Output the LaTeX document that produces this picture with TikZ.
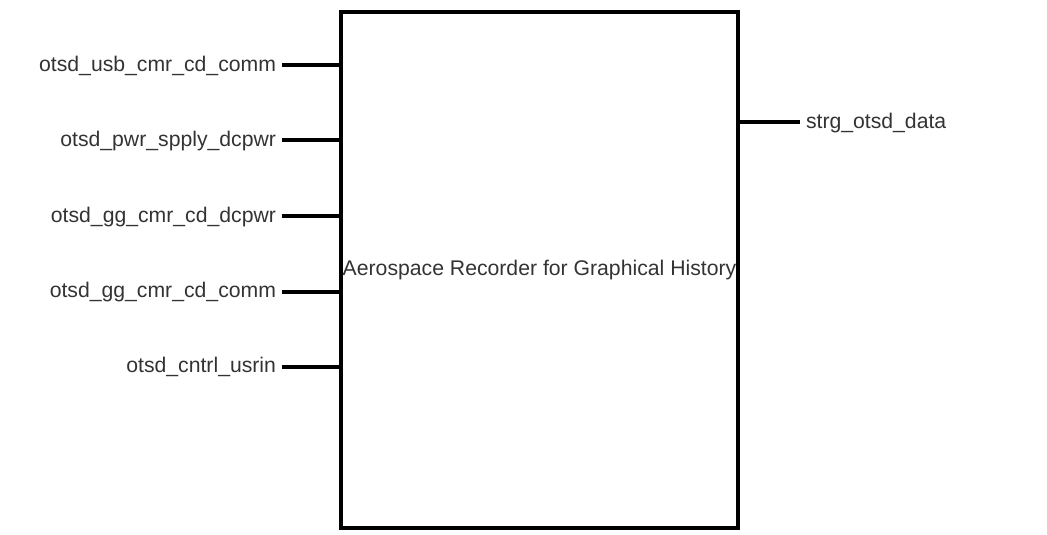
\documentclass[tikz,border=0pt]{standalone}
\usepackage{fontspec}
\setmainfont{Liberation Sans}
\definecolor{labelgray}{HTML}{333333}
\usepackage{tikz}
\usetikzlibrary{positioning, calc}

\begin{document}
\begin{tikzpicture}[x=1pt, y=-1pt,
		recbox/.style={draw=black, line width=4pt, minimum width=397pt, minimum height=516pt,
			inner sep=0pt, outer sep=0pt, text=labelgray, font=\fontsize{21.2}{25}\selectfont},
		sig/.style={inner sep=0pt, outer sep=6pt, text=labelgray, text height=16pt, text depth=3.5pt,
			font=\fontsize{21.2}{25}\selectfont},
		wire/.style={line width=4pt}]
					\useasboundingbox (0,0) rectangle (1047,535);
					% bloque
					\node[recbox] (arg) at (539.5,270) {Aerospace Recorder for Graphical History};
					% entradas
					\foreach \n/\lbl/\y in {usb/otsd\_usb\_cmr\_cd\_comm/65,
						pwr/otsd\_pwr\_spply\_dcpwr/140,
						ggpwr/otsd\_gg\_cmr\_cd\_dcpwr/216,
						ggcomm/otsd\_gg\_cmr\_cd\_comm/291.5,
						usrin/otsd\_cntrl\_usrin/366.5}{
						\node[sig, anchor=east] (in-\n) at (282,\y) {\lbl};
						\draw[wire] (in-\n.east) -- (in-\n.east -| arg.west);
					}
					% salida
					\node[sig, anchor=west] (out-data) at (800,122) {strg\_otsd\_data};
					\draw[wire] (out-data.west -| arg.east) -- (out-data.west);
				\end{tikzpicture}
\end{document}
